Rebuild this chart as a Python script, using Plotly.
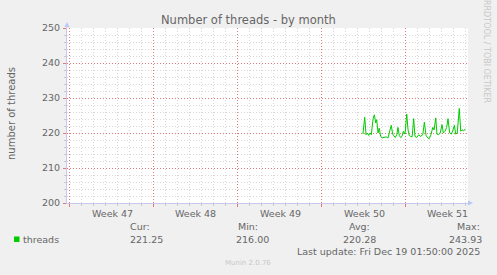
import plotly.graph_objects as go

# ---- data (x in days since graph start, Sun Nov 16 2025 01:50) ----
days = [24.66, 24.81, 24.92, 25.03, 25.14, 25.25, 25.36, 25.51, 25.61, 25.73,
        25.81, 25.92, 26.02, 26.14, 26.25, 26.42, 26.59, 26.75, 26.91, 27.02,
        27.14, 27.25, 27.36, 27.48, 27.58, 27.69, 27.81, 27.91, 28.03, 28.17,
        28.31, 28.42, 28.52, 28.64, 28.76, 28.89, 29.00, 29.14, 29.31, 29.44,
        29.65, 29.78, 29.92, 30.06, 30.19, 30.33, 30.48, 30.59, 30.73, 30.83,
        30.97, 31.10, 31.25, 31.36, 31.50, 31.64, 31.75, 31.89, 32.03, 32.17,
        32.28, 32.39, 32.52, 32.69, 32.81, 32.92, 33.06, 33.19]
threads = [219.7, 224.5, 219.5, 220.0, 219.3, 220.0, 219.5, 224.1, 225.2, 222.9,
           223.8, 220.0, 221.4, 219.0, 218.6, 218.8, 218.9, 218.6, 220.5, 222.2,
           219.7, 219.0, 218.7, 219.5, 221.6, 219.3, 218.7, 219.0, 220.5, 219.7,
           225.4, 220.9, 219.3, 219.0, 218.9, 224.1, 219.0, 218.7, 219.5, 219.0,
           219.5, 223.1, 219.3, 218.6, 218.4, 219.5, 221.6, 220.9, 224.3, 219.7,
           219.5, 220.0, 222.4, 220.0, 220.5, 221.6, 224.1, 220.0, 219.7, 220.9,
           222.2, 219.7, 220.0, 227.0, 220.5, 220.9, 220.6, 221.2]

week_labels = ["Week 47", "Week 48", "Week 49", "Week 50", "Week 51"]
week_label_pos = [3.77, 10.73, 17.75, 24.77, 31.73]
y_ticks = [200, 210, 220, 230, 240, 250]

legend_name = "threads"
stat_heads = ["Cur:", "Min:", "Avg:", "Max:"]
stat_vals = ["221.25", "216.00", "220.28", "243.93"]
last_update = "Last update: Fri Dec 19 01:50:00 2025"

# ---- geometry / style ----
W, H = 497, 275
L, R, T, B = 67, 468, 28, 203
FONT = "DejaVu Sans"
TXT = "#666666"
GREEN = "#00CC00"
MAJ = "#E07A7A"
MIN = "#D8D8D8"
AXC = "#C8C8EE"
DASH = "1px,2px"
X_RANGE = [0, 401 / 12]          # 12 px per day
Y_RANGE = [200, 250]
GRID0 = 2 / 12                   # first day/week grid line (days)

# minor grid positions (skip the ones covered by the major grid)
x_minor = [GRID0 + k for k in range(34) if k % 7 != 0]
y_minor = [v for v in range(200, 251, 2) if v % 10 != 0]


def px(x):
    return (x - L) / (R - L)


def py(y):
    return (B - y) / (B - T)


fig = go.Figure()
fig.add_trace(go.Scatter(x=[None], y=[None], xaxis="x2", yaxis="y2",
                         showlegend=False, hoverinfo="skip"))
fig.add_trace(go.Scatter(x=days, y=threads, mode="lines",
                         line=dict(color=GREEN, width=1), showlegend=False,
                         hoverinfo="skip"))

fig.update_layout(
    width=W, height=H,
    margin=dict(l=L, r=W - R, t=T, b=H - B),
    paper_bgcolor="#F0F0F0", plot_bgcolor="#FFFFFF",
    font=dict(family=FONT, size=9, color=TXT),
    showlegend=False,
    xaxis=dict(range=X_RANGE, tickvals=x_minor,
               showgrid=True, gridcolor=MIN, griddash=DASH, gridwidth=1,
               showticklabels=False, ticks="outside", ticklen=2,
               tickcolor="#C8C8C8", zeroline=False,
               showline=True, linecolor=AXC, linewidth=1),
    yaxis=dict(range=Y_RANGE, tickvals=y_minor,
               showgrid=True, gridcolor=MIN, griddash=DASH, gridwidth=1,
               showticklabels=False, ticks="outside", ticklen=2,
               tickcolor="#C8C8C8", zeroline=False,
               showline=True, linecolor=AXC, linewidth=1),
    xaxis2=dict(overlaying="x", range=X_RANGE, tick0=GRID0, dtick=7,
                showgrid=True, gridcolor=MAJ, griddash=DASH, gridwidth=1,
                showticklabels=False, ticks="outside", ticklen=3,
                tickcolor=MAJ, zeroline=False, showline=False, side="bottom"),
    yaxis2=dict(overlaying="y", range=Y_RANGE, tickvals=y_ticks,
                showgrid=True, gridcolor=MAJ, griddash=DASH, gridwidth=1,
                ticks="outside", ticklen=3, tickcolor=MAJ,
                ticklabelstandoff=1, tickfont=dict(size=9.5, color=TXT),
                zeroline=False, showline=False, side="left"),
)

ann = []
for lab, pos in zip(week_labels, week_label_pos):
    ann.append(dict(x=pos, xref="x", y=py(213.5), yref="paper", text=lab,
                    showarrow=False, xanchor="center", yanchor="middle",
                    font=dict(size=9.5, color=TXT)))
ann.append(dict(x=px(248), y=py(20), xref="paper", yref="paper",
                text="Number of threads - by month", showarrow=False,
                xanchor="center", yanchor="middle",
                font=dict(size=11.5, color=TXT)))
ann.append(dict(x=px(11), y=py(114), xref="paper", yref="paper",
                text="number of threads", showarrow=False, textangle=-90,
                xanchor="center", yanchor="middle",
                font=dict(size=10, color=TXT)))
ann.append(dict(x=px(487), y=py(51), xref="paper", yref="paper",
                text="RRDTOOL / TOBI OETIKER", showarrow=False, textangle=90,
                xanchor="center", yanchor="middle",
                font=dict(size=8, color="#C8C8C8")))
ann.append(dict(x=px(20.5), y=py(239.3), xref="paper", yref="paper",
                text=legend_name, showarrow=False, xanchor="left",
                yanchor="middle", font=dict(size=9.5, color=TXT)))
head_x = [127.7, 236.3, 346.7, 455.3]
val_x = [127.7, 234.3, 340.7, 446.7]
for h, v, hx, vx in zip(stat_heads, stat_vals, head_x, val_x):
    ann.append(dict(x=px(hx), y=py(226.7), xref="paper", yref="paper", text=h,
                    showarrow=False, xanchor="left", yanchor="middle",
                    font=dict(size=9.5, color=TXT)))
    ann.append(dict(x=px(vx), y=py(239.3), xref="paper", yref="paper", text=v,
                    showarrow=False, xanchor="left", yanchor="middle",
                    font=dict(size=9.5, color=TXT)))
ann.append(dict(x=px(482), y=py(251), xref="paper", yref="paper",
                text=last_update, showarrow=False, xanchor="right",
                yanchor="middle", font=dict(size=9.5, color=TXT)))
ann.append(dict(x=px(248), y=py(262.7), xref="paper", yref="paper",
                text="Munin 2.0.76", showarrow=False, xanchor="center",
                yanchor="middle", font=dict(size=7, color="#C8C8C8")))
fig.update_layout(annotations=ann)

shapes = []
shapes.append(dict(type="rect", xref="paper", yref="paper",
                   x0=px(14), x1=px(19.5), y0=py(242), y1=py(236.5),
                   fillcolor=GREEN, line=dict(width=0)))
ARW = "#B8C8F8"
shapes.append(dict(type="path", xref="paper", yref="paper",
                   path=f"M {px(468)} {py(200.5)} L {px(473)} {py(203)} L {px(468)} {py(205.5)} Z",
                   fillcolor=ARW, line=dict(width=0)))
shapes.append(dict(type="line", xref="paper", yref="paper",
                   x0=0, x1=0, y0=1, y1=py(26), line=dict(color=AXC, width=1)))
shapes.append(dict(type="path", xref="paper", yref="paper",
                   path=f"M {px(64.5)} {py(27)} L {px(67)} {py(22)} L {px(69.5)} {py(27)} Z",
                   fillcolor=ARW, line=dict(width=0)))
fig.update_layout(shapes=shapes)

fig.write_html("out.html")
